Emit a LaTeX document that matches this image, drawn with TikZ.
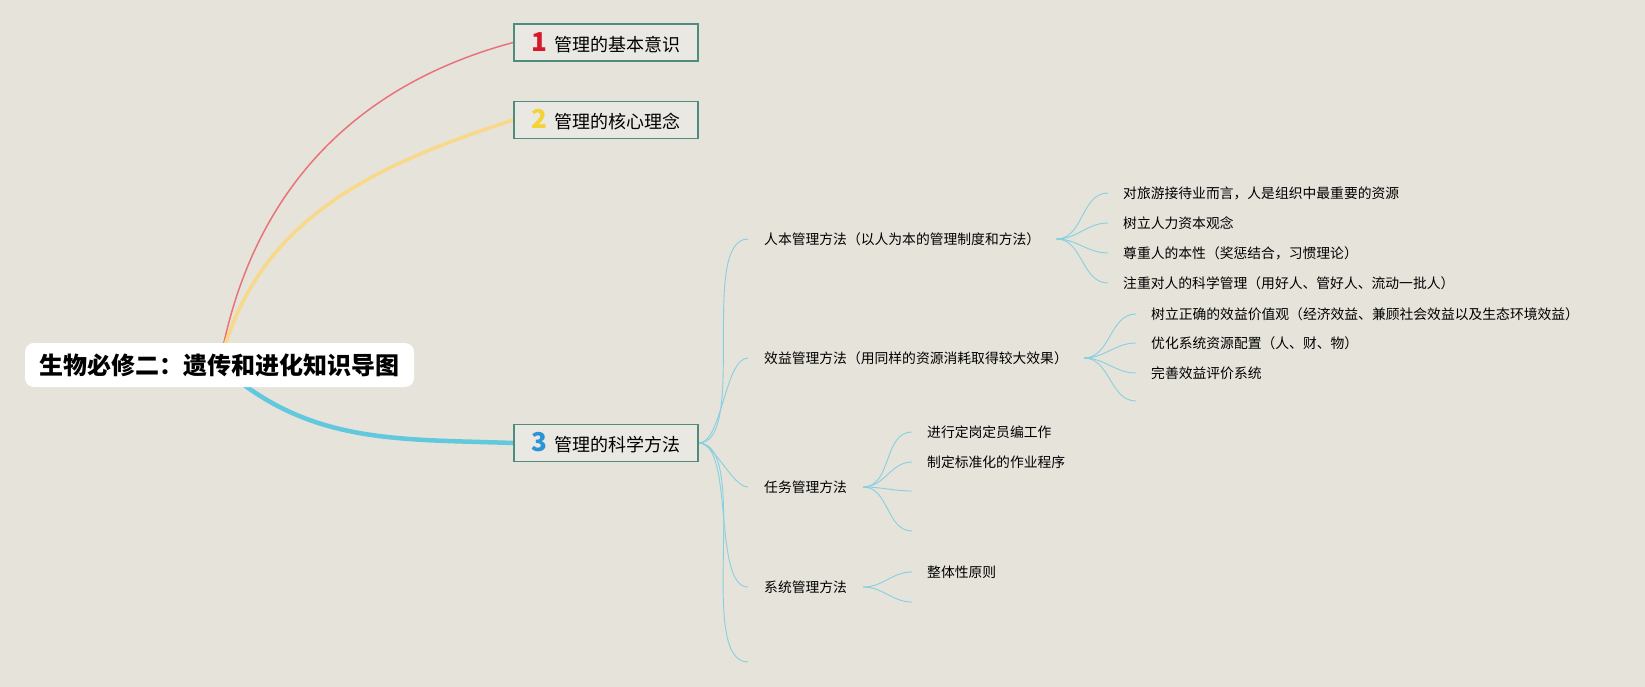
\documentclass[tikz,border=0pt]{standalone}
\usepackage{fontspec}
\setmainfont{Noto Sans CJK SC}
\usetikzlibrary{positioning}

\definecolor{paper}{HTML}{E6E3DB}
\definecolor{boxfill}{HTML}{EAE8E2}
\definecolor{boxline}{HTML}{4F8C7D}
\definecolor{twigc}{HTML}{86D0E0}
\definecolor{redline}{HTML}{E9737B}
\definecolor{yellowline}{HTML}{F8D98A}
\definecolor{blueline}{HTML}{62C8DE}
\definecolor{numred}{HTML}{D8192C}
\definecolor{numyellow}{HTML}{F5D236}
\definecolor{numblue}{HTML}{2A94D6}

\pgfdeclarelayer{edges}
\pgfsetlayers{edges,main}

\newcommand\topicnum[2]{{\fontsize{26}{26}\selectfont\bfseries\color{#1}#2}\hspace{8pt}}

\tikzset{
  rootbox/.style={fill=white, rounded corners=9pt, minimum width=389pt, minimum height=44pt,
    inner sep=0pt, font=\fontsize{24}{26}\selectfont\bfseries},
  topic/.style={draw=boxline, line width=1.6pt, fill=boxfill, minimum width=184pt,
    minimum height=37pt, inner sep=0pt, font=\fontsize{18}{20}\selectfont},
  item/.style={anchor=west, inner xsep=16pt, inner ysep=2pt, font=\fontsize{13.8}{15}\selectfont},
  leaf/.style={item, inner xsep=15pt},
  twig/.style={draw=twigc, line width=0.9pt, out=0, in=180},
}

\begin{document}
\begin{tikzpicture}[x=1pt,y=-1pt]
\useasboundingbox (0,0) rectangle (1645,687);

% centre and main topics
\node[rootbox] (root) at (219.5,365) {生物必修二：遗传和进化知识导图};
\node[topic] (b1) at (606,42.5) {\topicnum{numred}{1}管理的基本意识};
\node[topic] (b2) at (606,120) {\topicnum{numyellow}{2}管理的核心理念};
\node[topic] (b3) at (606,443) {\topicnum{numblue}{3}管理的科学方法};

% methods
\node[item] (m1) at (748,239) {人本管理方法（以人为本的管理制度和方法）};
\node[item] (m2) at (748,358) {效益管理方法（用同样的资源消耗取得较大效果）};
\node[item] (m3) at (748,487) {任务管理方法};
\node[item] (m4) at (748,587) {系统管理方法};
\coordinate (m5) at (748,662);

% details
\node[leaf] (p1) at (1108,193) {对旅游接待业而言，人是组织中最重要的资源};
\node[leaf] (p2) at (1108,223) {树立人力资本观念};
\node[leaf] (p3) at (1108,253) {尊重人的本性（奖惩结合，习惯理论）};
\node[leaf] (p4) at (1108,283) {注重对人的科学管理（用好人、管好人、流动一批人）};
\node[leaf] (e1) at (1136,314) {树立正确的效益价值观（经济效益、兼顾社会效益以及生态环境效益）};
\node[leaf] (e2) at (1136,343) {优化系统资源配置（人、财、物）};
\node[leaf] (e3) at (1136,373) {完善效益评价系统};
\coordinate (e4) at (1136,401);
\node[leaf] (t1) at (912,432) {进行定岗定员编工作};
\node[leaf] (t2) at (912,462) {制定标准化的作业程序};
\coordinate (t3) at (912,491);
\coordinate (t4) at (912,531);
\node[leaf] (s1) at (912,572) {整体性原则};
\coordinate (s2) at (912,602);

\begin{pgfonlayer}{edges}
\fill[paper] (0,0) rectangle (1645,687);
\draw[redline, line width=1.5pt] (root.center) to[out=80, in=195] (b1.west);
\draw[yellowline, line width=3.5pt] (root.center) to[out=76, in=198] (b2.west);
\draw[blueline, line width=4.5pt] (root.center) to[out=-42, in=178] (b3.west);
\foreach \m in {m1,m2,m3,m4} \draw[twig, looseness=0.6] (b3.east) to (\m.west);
\draw[twig, looseness=0.6] (b3.east) to (m5);
\foreach \p in {p1,p2,p3,p4} \draw[twig] (m1.east) to (\p.west);
\foreach \e in {e1,e2,e3} \draw[twig] (m2.east) to (\e.west);
\draw[twig] (m2.east) to (e4);
\foreach \t in {t1,t2} \draw[twig] (m3.east) to (\t.west);
\draw[twig] (m3.east) to (t3);
\draw[twig] (m3.east) to (t4);
\draw[twig] (m4.east) to (s1.west);
\draw[twig] (m4.east) to (s2);
\end{pgfonlayer}
\end{tikzpicture}
\end{document}
